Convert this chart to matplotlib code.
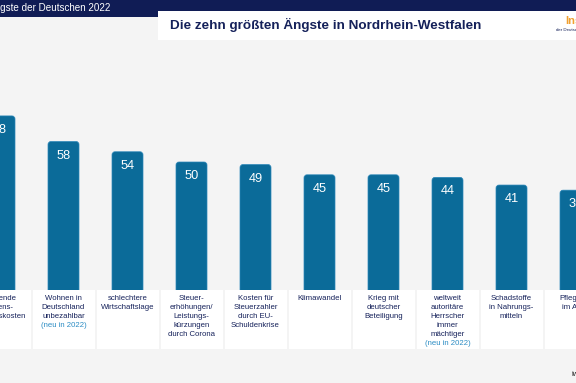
import matplotlib.pyplot as plt
from matplotlib.patches import FancyBboxPatch, Rectangle

# Daten: Anteil der Befragten in Prozent
labels = [
    ["steigende", "Lebens-", "haltungskosten"],
    ["Wohnen in", "Deutschland", "unbezahlbar", "(neu in 2022)"],
    ["schlechtere", "Wirtschaftslage"],
    ["Steuer-", "erhöhungen/", "Leistungs-", "kürzungen", "durch Corona"],
    ["Kosten für", "Steuerzahler", "durch EU-", "Schuldenkrise"],
    ["Klimawandel"],
    ["Krieg mit", "deutscher", "Beteiligung"],
    ["weltweit", "autoritäre", "Herrscher", "immer", "mächtiger", "(neu in 2022)"],
    ["Schadstoffe", "in Nahrungs-", "mitteln"],
    ["Pflegefall", "im Alter"],
]
values = [68, 58, 54, 50, 49, 45, 45, 44, 41, 39]

W, H = 576, 383
BASE = 290      # pixel row of the bars' baseline
PX_PER_UNIT = 2.56
STEP = 64       # pixel distance between bars

bar_col = '#0b6b99'
navy = '#15215a'
neu_col = '#2b8cc4'
bg = '#f4f4f4'

fig = plt.figure(figsize=(W / 100, H / 100), dpi=100)
fig.patch.set_facecolor(bg)
ax = fig.add_axes([0, 0, 1, 1])
ax.set_facecolor(bg)
ax.set_xlim(0.5 / STEP, (W + 0.5) / STEP)
ax.set_ylim(-(H - BASE) / PX_PER_UNIT, BASE / PX_PER_UNIT)
ax.axis('off')

x = list(range(len(values)))
ux = 1 / STEP
uy = 1 / PX_PER_UNIT

# weisse Kästen unter den Balken
ax.bar(x, -59 * uy, width=62 * ux, color='white', zorder=3)

bars = ax.bar(x, values, width=31 * ux, color=bar_col, zorder=2)
for b in bars:
    b.set_visible(False)
    r = 3 * ux
    p = FancyBboxPatch((b.get_x(), b.get_y() - 4 * uy), b.get_width(), b.get_height() + 4 * uy,
                       boxstyle='round,pad=0,rounding_size=%f' % r,
                       mutation_aspect=STEP / PX_PER_UNIT,
                       facecolor=bar_col, edgecolor='#2a86b8', linewidth=0.5, zorder=2)
    ax.add_patch(p)

for xi, v in zip(x, values):
    ax.text(xi, v - 14 * uy, str(v), ha='center', va='center', color='white',
            fontsize=9.2, family='Liberation Sans', zorder=4)

for xi, lines in zip(x, labels):
    for k, line in enumerate(lines):
        col = neu_col if line.startswith('(neu') else navy
        ax.text(xi, -(8.3 + 9 * k) * uy, line, ha='center', va='center', color=col,
                fontsize=5.6, family='Liberation Sans', zorder=4)

# Kopfzeile
fig.add_artist(Rectangle((0, 1 - 16.5 / H), 1, 16.5 / H, transform=fig.transFigure,
                         facecolor='#101c55', edgecolor='none', zorder=1))
fig.add_artist(Rectangle((158 / W, 1 - 40 / H), 1, 29 / H, transform=fig.transFigure,
                         facecolor='white', edgecolor='none', zorder=2))
fig.text(110 / W, 1 - 8 / H, 'Die größten Ängste der Deutschen 2022', ha='right', va='center',
         color='white', fontsize=7.1, family='Liberation Sans', zorder=3)
fig.text(170 / W, 1 - 25 / H, 'Die zehn größten Ängste in Nordrhein-Westfalen', ha='left',
         va='center', color=navy, fontsize=9.7, fontweight='bold', family='Liberation Sans', zorder=3)
fig.text(565 / W, 1 - 21 / H, 'Institut', ha='left', va='center', color='#f0a030',
         fontsize=8, fontweight='bold', family='Liberation Sans', zorder=3)
fig.text(556 / W, 1 - 30 / H, 'der Deutschen', ha='left', va='center', color=navy,
         fontsize=3.2, family='Liberation Sans', zorder=3)
fig.text(571 / W, 1 - 374 / H, 'iwd', ha='left', va='center', color='#333333',
         fontsize=5.6, family='Liberation Sans', zorder=3)

fig.savefig('out.png', dpi=100, facecolor=bg)
